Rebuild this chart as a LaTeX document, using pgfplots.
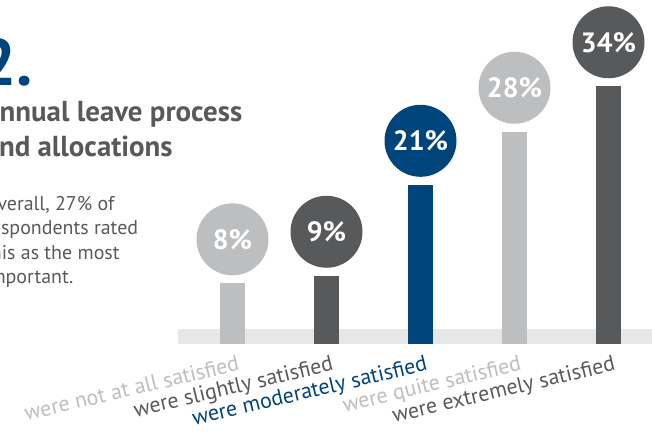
\documentclass[border=0pt]{standalone}
\usepackage{pgfplots}
\pgfplotsset{compat=1.18}
\usepackage{fontspec}
\setmainfont{PT Sans}
\definecolor{lightg}{HTML}{BCBEC0}
\definecolor{darkg}{HTML}{58595B}
\definecolor{navy}{HTML}{00447C}
\definecolor{bandg}{HTML}{E6E7E8}
\tikzset{circ/.style={circle, inner sep=0pt, minimum size=72bp, text=white,
    font=\bfseries\fontsize{28}{28}\selectfont, anchor=center, yshift=44bp},
  lab/.style={anchor=base east, rotate=13.3, inner sep=0pt, xshift=8bp, font=\fontsize{22}{24}\selectfont}}
\begin{document}
\begin{tikzpicture}
\useasboundingbox (0,0) rectangle (652bp,436bp);
\clip (0,0) rectangle (652bp,436bp);
% left texts
\node[anchor=base east, inner sep=0, text=navy, font=\bfseries\fontsize{66}{66}\selectfont] at (33bp,350bp) {2.};
\node[anchor=base west, inner sep=0, text=darkg, font=\bfseries\fontsize{29}{32}\selectfont] at (-18bp,314bp) {Annual leave process};
\node[anchor=base west, inner sep=0, text=darkg, font=\bfseries\fontsize{29}{32}\selectfont] at (-15.5bp,279.5bp) {and allocations};
\node[anchor=base west, inner sep=0, text=darkg, font=\fontsize{20}{24}\selectfont] at (-16bp,225.3bp) {Overall, 27\% of};
\node[anchor=base west, inner sep=0, text=darkg, font=\fontsize{20}{24}\selectfont] at (-16bp,201bp) {respondents rated};
\node[anchor=base west, inner sep=0, text=darkg, font=\fontsize{20}{24}\selectfont] at (-16bp,176.7bp) {this as the most};
\node[anchor=base west, inner sep=0, text=darkg, font=\fontsize{20}{24}\selectfont] at (-16bp,152.4bp) {important.};
\begin{axis}[
  at={(0,0)}, anchor=south west,
  scale only axis, width=652bp, height=436bp,
  xmin=-2.4734, xmax=4.4628, ymin=-12.137, ymax=45.38,
  hide axis, clip=false,
  /pgf/number format/assume math mode=true,
]
\fill[bandg] (axis cs:-0.58,0) rectangle (axis cs:4.4628,1.98);
\addplot[ybar, bar width=25bp, bar shift=0pt, fill=lightg, draw=none,
  nodes near coords={\pgfmathprintnumber{\pgfplotspointmeta}\%},
  nodes near coords align=center,
  every node near coord/.append style={circ, fill=lightg}] coordinates {(0,8)};
\addplot[ybar, bar width=25bp, bar shift=0pt, fill=darkg, draw=none,
  nodes near coords={\pgfmathprintnumber{\pgfplotspointmeta}\%},
  nodes near coords align=center,
  every node near coord/.append style={circ, fill=darkg}] coordinates {(1,9)};
\addplot[ybar, bar width=25bp, bar shift=0pt, fill=navy, draw=none,
  nodes near coords={\pgfmathprintnumber{\pgfplotspointmeta}\%},
  nodes near coords align=center,
  every node near coord/.append style={circ, fill=navy}] coordinates {(2,21)};
\addplot[ybar, bar width=25bp, bar shift=0pt, fill=lightg, draw=none,
  nodes near coords={\pgfmathprintnumber{\pgfplotspointmeta}\%},
  nodes near coords align=center,
  every node near coord/.append style={circ, fill=lightg}] coordinates {(3,28)};
\addplot[ybar, bar width=25bp, bar shift=0pt, fill=darkg, draw=none,
  nodes near coords={\pgfmathprintnumber{\pgfplotspointmeta}\%},
  nodes near coords align=center,
  every node near coord/.append style={circ, fill=darkg}] coordinates {(4,34)};
% category labels
\node[lab, text=lightg] at (axis cs:0,-3.7) {were not at all satisfied};
\node[lab, text=darkg] at (axis cs:1,-3.7) {were slightly satisfied};
\node[lab, text=navy] at (axis cs:2,-3.7) {were moderately satisfied};
\node[lab, text=lightg] at (axis cs:3,-3.7) {were quite satisfied};
\node[lab, text=darkg] at (axis cs:4,-3.7) {were extremely satisfied};
\end{axis}
\end{tikzpicture}
\end{document}
